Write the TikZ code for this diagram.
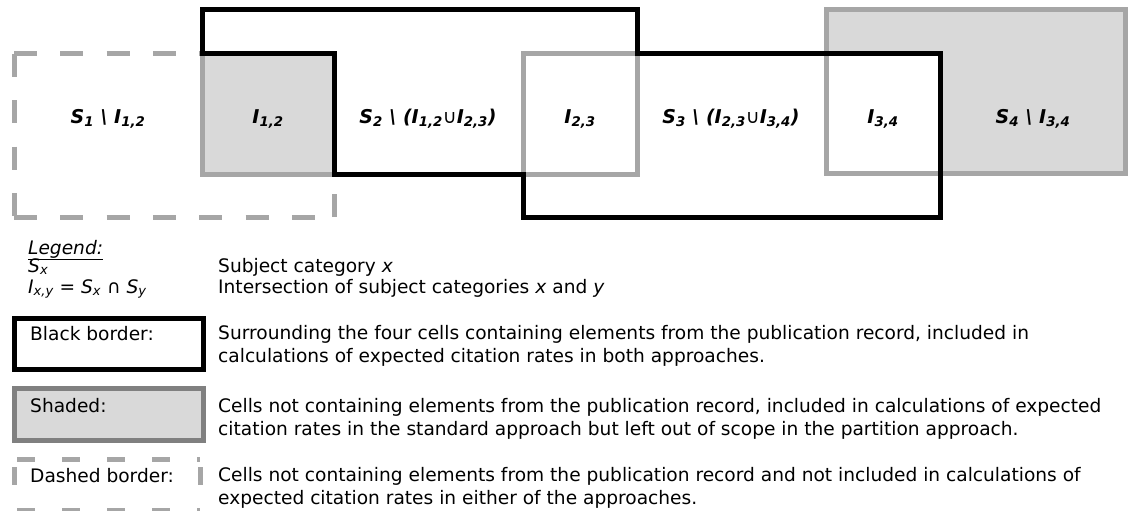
\documentclass[tikz,border=0pt]{standalone}
\usepackage{fontspec}
\setmainfont{DejaVu Sans}
\definecolor{cellgray}{HTML}{D9D9D9}
\definecolor{linegray}{HTML}{A6A6A6}
\definecolor{keygray}{HTML}{808080}
\begin{document}
\begin{tikzpicture}[x=1pt,y=-1pt,
    cell/.style={font=\fontsize{19}{22}\selectfont\bfseries\itshape,anchor=base,inner sep=0pt},
    note/.style={font=\fontsize{18.6}{23}\selectfont,anchor=base west,inner sep=0pt,align=left},
    blackline/.style={line width=5pt,black},
    grayline/.style={line width=5pt,linegray},
    dashline/.style={line width=5pt,linegray,dash pattern=on 23pt off 23.3pt},
    keydash/.style={line width=5pt,linegray,dash pattern=on 18pt off 27pt}]
  \useasboundingbox (0,0) rectangle (1128,511);

  % S4 shaded, I3,4 left white
  \fill[cellgray] (826,10) rectangle (1125,173);
  \fill[white] (826,54) rectangle (940,173);
  \draw[grayline] (826,10) rectangle (1125,173);
  % S1 dashed
  \draw[dashline] (14,54) -- (202,54) (14,54) -- (14,217) (14,217) -- (334,217) (334,217) -- (334,174);
  % I1,2 and I2,3
  \filldraw[grayline,fill=cellgray] (202,54) rectangle (334,174);
  \draw[grayline] (523,54) rectangle (637,174);
  % black border
  \draw[blackline] (202,54) -- (202,10) -- (637,10) -- (637,54) -- (940,54) -- (940,217)
    -- (523,217) -- (523,174) -- (334,174) -- (334,54) -- cycle;

  \node[cell] (s1) at (108,123) {S\textsubscript{1} \textbackslash{} I\textsubscript{1,2}};
  \node[cell] (i12) at (268,123) {I\textsubscript{1,2}};
  \node[cell] (s2) at (428,123) {S\textsubscript{2} \textbackslash{} (I\textsubscript{1,2}{\mdseries∪}I\textsubscript{2,3})};
  \node[cell] (i23) at (580,123) {I\textsubscript{2,3}};
  \node[cell] (s3) at (731,123) {S\textsubscript{3} \textbackslash{} (I\textsubscript{2,3}{\mdseries∪}I\textsubscript{3,4})};
  \node[cell] (i34) at (883,123) {I\textsubscript{3,4}};
  \node[cell] (s4) at (1033,123) {S\textsubscript{4} \textbackslash{} I\textsubscript{3,4}};

  % legend
  \node[note] (legend) at (28,254) {\underline{\itshape Legend:}};
  \node[note] (sx) at (28,272) {\itshape S\textsubscript{x}};
  \node[note] (ixy) at (28,293) {\itshape I\textsubscript{x,y} \upshape = \itshape S\textsubscript{x} \upshape ∩ \itshape S\textsubscript{y}};
  \node[note] (sxnote) at (218,272) {Subject category \textit{x}};
  \node[note] (ixynote) at (218,293) {Intersection of subject categories \textit{x} and \textit{y}};

  \draw[blackline] (14.5,318.5) rectangle (203.5,369.5);
  \filldraw[line width=5pt,draw=keygray,fill=cellgray] (14.5,388.5) rectangle (203.5,440.5);
  \draw[keydash] (17,459.5) -- (200,459.5) (14.5,467) -- (14.5,510) (200,467) -- (200,510) (17,510) -- (200,510);

  \node[note] (blackkey) at (30,340) {Black border:};
  \node[note] (shadedkey) at (30,412) {Shaded:};
  \node[note] (dashedkey) at (30,482) {Dashed border:};

  % two-line notes sit on their last baseline
  \node[note] (blacknote) at (218,362) {Surrounding the four cells containing elements from the publication record, included in\\calculations of expected citation rates in both approaches.};
  \node[note] (shadednote) at (218,435) {Cells not containing elements from the publication record, included in calculations of expected\\citation rates in the standard approach but left out of scope in the partition approach.};
  \node[note] (dashednote) at (218,504) {Cells not containing elements from the publication record and not included in calculations of\\expected citation rates in either of the approaches.};
\end{tikzpicture}
\end{document}
